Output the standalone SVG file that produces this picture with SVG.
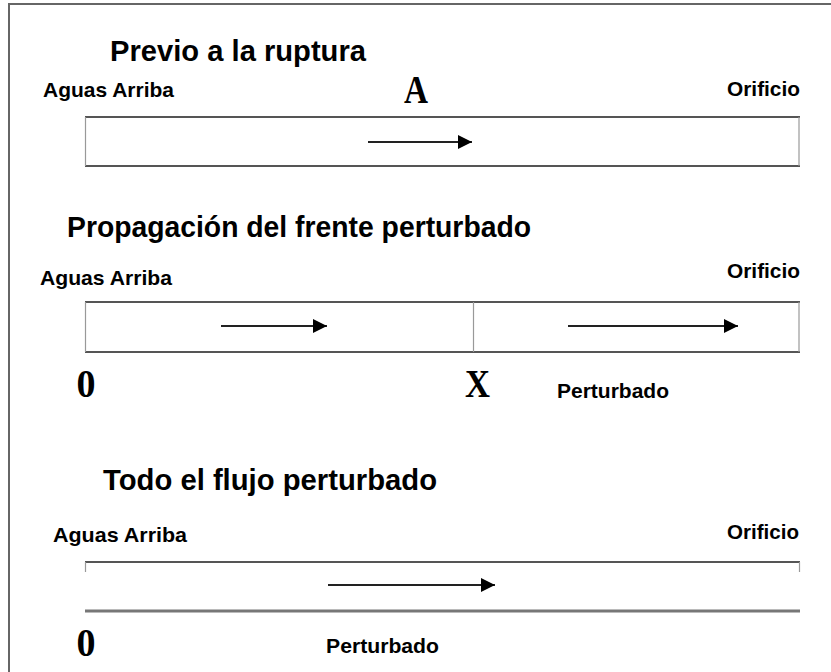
<svg xmlns="http://www.w3.org/2000/svg" width="831" height="672" viewBox="0 0 831 672">
<defs>
<style>
.title{font-family:"Liberation Sans",Arial,sans-serif;font-weight:bold;font-size:29px;fill:#000}
.lbl{font-family:"Liberation Sans",Arial,sans-serif;font-weight:bold;font-size:20.5px;fill:#000}
.ser{font-family:"Liberation Serif","Times New Roman",serif;font-weight:bold;font-size:40px;fill:#000}
.hl{stroke:#555;stroke-width:2.2;fill:none}
.vl{stroke:#999;stroke-width:1.2;fill:none}
.arr{stroke:#222;stroke-width:2;fill:none;marker-end:url(#ah)}
</style>
<marker id="ah" viewBox="0 0 10 10" refX="10" refY="5" markerWidth="7" markerHeight="7" markerUnits="strokeWidth" orient="auto">
<path d="M0,0 L10,5 L0,10 Z" fill="#000"/>
</marker>
</defs>
<rect x="9" y="4" width="830" height="680" fill="#fff" stroke="#666" stroke-width="2"/>

<g id="stage1">
<text class="title" x="110" y="61" textLength="256" lengthAdjust="spacingAndGlyphs">Previo a la ruptura</text>
<text class="lbl" x="43" y="97" textLength="131" lengthAdjust="spacingAndGlyphs">Aguas Arriba</text>
<text class="ser" x="404" y="103" textLength="24" lengthAdjust="spacingAndGlyphs">A</text>
<text class="lbl" x="727" y="96" textLength="73" lengthAdjust="spacingAndGlyphs">Orificio</text>
<line class="hl" x1="85" y1="117" x2="800" y2="117"/>
<line class="hl" x1="85" y1="166" x2="800" y2="166"/>
<line class="vl" x1="85.5" y1="117" x2="85.5" y2="166"/>
<line class="vl" x1="799" y1="117" x2="799" y2="166"/>
</g>

<g id="stage2">
<text class="title" x="67" y="237" textLength="464" lengthAdjust="spacingAndGlyphs">Propagación del frente perturbado</text>
<text class="lbl" x="40" y="285" textLength="132" lengthAdjust="spacingAndGlyphs">Aguas Arriba</text>
<text class="lbl" x="727" y="278" textLength="73" lengthAdjust="spacingAndGlyphs">Orificio</text>
<line class="hl" x1="85" y1="302" x2="800" y2="302"/>
<line class="hl" x1="85" y1="352" x2="800" y2="352"/>
<line class="vl" x1="85.5" y1="302" x2="85.5" y2="352"/>
<line class="vl" x1="799" y1="302" x2="799" y2="352"/>
<line class="vl" x1="473.5" y1="302" x2="473.5" y2="352"/>
<text class="ser" x="86" y="397" text-anchor="middle" textLength="19" lengthAdjust="spacingAndGlyphs">0</text>
<text class="ser" x="465" y="397" textLength="25" lengthAdjust="spacingAndGlyphs">X</text>
<text class="lbl" x="557" y="398" textLength="112" lengthAdjust="spacingAndGlyphs">Perturbado</text>
</g>

<g id="stage3">
<text class="title" x="103" y="490" textLength="334" lengthAdjust="spacingAndGlyphs">Todo el flujo perturbado</text>
<text class="lbl" x="53" y="542" textLength="134" lengthAdjust="spacingAndGlyphs">Aguas Arriba</text>
<text class="lbl" x="727" y="539" textLength="72" lengthAdjust="spacingAndGlyphs">Orificio</text>
<line class="hl" x1="85" y1="562" x2="800" y2="562"/>
<line class="vl" x1="85.5" y1="562" x2="85.5" y2="572"/>
<line class="vl" x1="799.5" y1="562" x2="799.5" y2="572"/>
<line stroke="#777" stroke-width="3" x1="85" y1="611" x2="800" y2="611"/>
<text class="ser" x="86" y="656" text-anchor="middle" textLength="19" lengthAdjust="spacingAndGlyphs">0</text>
<text class="lbl" x="326" y="653" textLength="113" lengthAdjust="spacingAndGlyphs">Perturbado</text>
</g>

<g id="connectors">
<line class="arr" x1="368" y1="142" x2="472" y2="142"/>
<line class="arr" x1="221" y1="326" x2="327" y2="326"/>
<line class="arr" x1="568" y1="326" x2="738" y2="326"/>
<line class="arr" x1="328" y1="585" x2="495" y2="585" stroke="#444"/>
</g>
</svg>
